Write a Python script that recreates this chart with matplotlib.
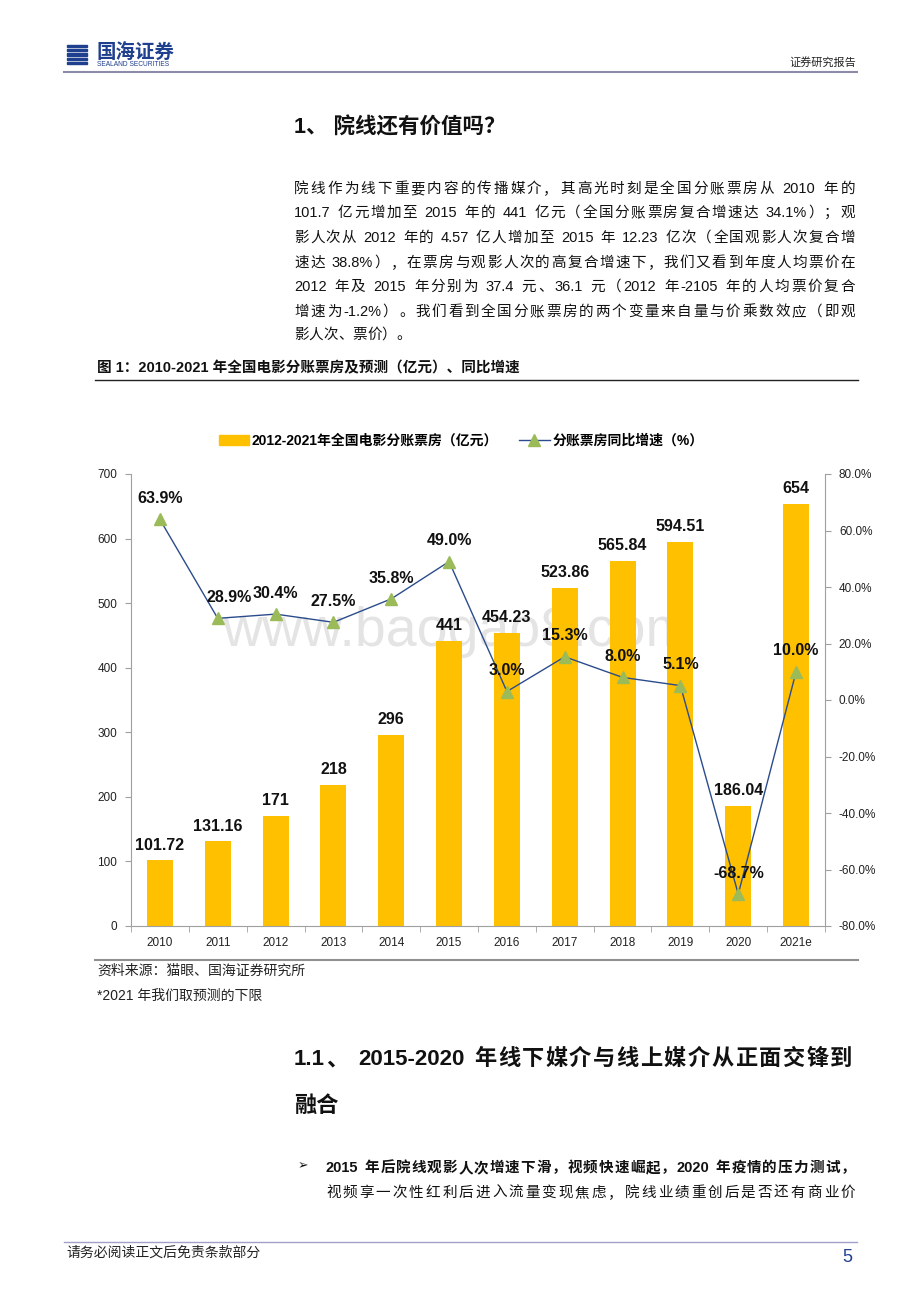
import re
import matplotlib
matplotlib.use('Agg')
import matplotlib.pyplot as plt
from matplotlib.lines import Line2D
from matplotlib.patches import Patch, Rectangle
import numpy as np

FAM = ['Liberation Sans', 'Noto Sans CJK SC']
plt.rcParams['font.family'] = FAM

# chart data
years = ['2010', '2011', '2012', '2013', '2014', '2015', '2016', '2017',
         '2018', '2019', '2020', '2021e']
box_office = [101.72, 131.16, 171, 218, 296, 441, 454.23, 523.86, 565.84,
              594.51, 186.04, 654]
box_labels = ['101.72', '131.16', '171', '218', '296', '441', '454.23',
              '523.86', '565.84', '594.51', '186.04', '654']
growth = [63.9, 28.9, 30.4, 27.5, 35.8, 49.0, 3.0, 15.3, 8.0, 5.1, -68.7, 10.0]
left_ticks = [0, 100, 200, 300, 400, 500, 600, 700]
right_ticks = [-80, -60, -40, -20, 0, 20, 40, 60, 80]

# page text
para = [
    '院线作为线下重要内容的传播媒介，其高光时刻是全国分账票房从 2010 年的',
    '101.7 亿元增加至 2015 年的 441 亿元（全国分账票房复合增速达 34.1%）；观',
    '影人次从 2012 年的 4.57 亿人增加至 2015 年 12.23 亿次（全国观影人次复合增',
    '速达 38.8%），在票房与观影人次的高复合增速下，我们又看到年度人均票价在',
    '2012 年及 2015 年分别为 37.4 元、36.1 元（2012 年-2105 年的人均票价复合',
    '增速为-1.2%）。我们看到全国分账票房的两个变量来自量与价乘数效应（即观',
    '影人次、票价）。',
]
bullet = [
    '2015 年后院线观影人次增速下滑，视频快速崛起，2020 年疫情的压力测试，',
    '视频享一次性红利后进入流量变现焦虑，院线业绩重创后是否还有商业价',
]

W, H = 920, 1302
fig = plt.figure(figsize=(W / 100, H / 100), dpi=100)
renderer = fig.canvas.get_renderer()


def fx(x):
    return x / W


def fy(y):
    return 1 - y / H


def hline(y, x0, x1, color, lw):
    fig.add_artist(Line2D([fx(x0), fx(x1)], [fy(y), fy(y)], color=color, lw=lw,
                          transform=fig.transFigure))


def put_line(s, x0, x1, y, size, weight='normal', justify=True, color='#111111'):
    # place a line token by token so it can be stretched to the full width
    toks = re.findall(r'[A-Za-z0-9.\-%*]+| |.', s)
    widths = []
    for t in toks:
        if t == ' ':
            widths.append(size * 100 / 72 * 0.3)
        else:
            tx = fig.text(0, 0, t, fontsize=size, weight=weight)
            widths.append(tx.get_window_extent(renderer).width)
            tx.remove()
    gap = 0
    if justify and len(toks) > 1:
        gap = (x1 - x0 - sum(widths)) / (len(toks) - 1)
    x = x0
    for t, w in zip(toks, widths):
        if t != ' ':
            fig.text(fx(x), fy(y), t, fontsize=size, weight=weight, color=color,
                     ha='left', va='baseline')
        x += w + gap


# header
for i in range(5):
    fig.add_artist(Rectangle((fx(67), fy(47 + i * 4.3)), fx(20), 2.2 / H,
                             color='#1F3F8F', transform=fig.transFigure))
fig.text(fx(97), fy(53), '国海证券', fontsize=14, weight='bold', color='#1F3F8F',
         va='center')
fig.text(fx(97), fy(65), 'SEALAND SECURITIES', fontsize=4.8, color='#1F3F8F',
         va='center')
fig.text(fx(856), fy(62), '证券研究报告', fontsize=8, color='#222222',
         ha='right', va='center')
hline(72, 64, 857, '#8C8CAA', 1.5)

# section 1
fig.text(fx(294), fy(128), '1、 院线还有价值吗？', fontsize=15.5, weight='bold',
         color='#111111', va='center')
line_y = [187, 211, 236, 261, 285, 310, 333]
for i, s in enumerate(para):
    put_line(s, 294, 855, line_y[i] + 6, 10.5, justify=(i < len(para) - 1))

# figure title
fig.text(fx(97), fy(368), '图 1：2010-2021 年全国电影分账票房及预测（亿元）、同比增速',
         fontsize=10.5, weight='bold', color='#111111', va='center')
hline(380, 95, 858, '#222222', 1.0)

# chart
ax = fig.add_axes([fx(131), fy(926), (825 - 131) / W, (926 - 474) / H])
x = np.arange(len(years))
ax.bar(x, box_office, width=0.45, color='#FFC000', zorder=2)
ax.set_xlim(-0.5, len(years) - 0.5)
ax.set_ylim(0, 700)
ax.set_yticks(left_ticks)
ax.set_xticks(x)
ax.set_xticklabels(years)
ax.set_xticks(np.arange(-0.5, len(years), 1), minor=True)
ax.tick_params(axis='x', which='major', length=0, pad=8, labelsize=8.5,
               labelcolor='#222222')
ax.tick_params(axis='x', which='minor', length=4, color='#A0A0A0', direction='out')
ax.tick_params(axis='y', length=4, color='#A0A0A0', labelsize=8.5,
               labelcolor='#222222', pad=6)
for sp in ['top', 'right']:
    ax.spines[sp].set_visible(False)
for sp in ['left', 'bottom']:
    ax.spines[sp].set_color('#A0A0A0')
ax.text(0.47, 0.65, 'www.baogao8.com', transform=ax.transAxes, fontsize=40,
        color='#e4e4e4', ha='center', va='center', zorder=0)
for xi, v, lab in zip(x, box_office, box_labels):
    ax.annotate(lab, (xi, v), xytext=(0, 11), textcoords='offset points',
                ha='center', va='center', fontsize=11.5, weight='bold',
                color='#111111', zorder=5)

ax2 = ax.twinx()
ax2.plot(x, growth, color='#2B4C8C', lw=1.0, marker='^', ms=9,
         mfc='#9BBB59', mec='#9BBB59', zorder=3)
ax2.set_ylim(-80, 80)
ax2.set_yticks(right_ticks)
ax2.set_yticklabels(['%.1f%%' % v for v in right_ticks])
ax2.tick_params(axis='y', length=4, color='#A0A0A0', labelsize=8.5,
                labelcolor='#222222', pad=6)
for sp in ['top', 'left', 'bottom']:
    ax2.spines[sp].set_visible(False)
ax2.spines['right'].set_color('#A0A0A0')
for i, (xi, v) in enumerate(zip(x, growth)):
    dx = 8 if i == 1 else 0
    ax2.annotate('%.1f%%' % v, (xi, v), xytext=(dx, 15), textcoords='offset points',
                 ha='center', va='center', fontsize=11.5, weight='bold',
                 color='#111111', zorder=6)

handles = [Patch(color='#FFC000'),
           Line2D([], [], color='#2B4C8C', lw=1.0, marker='^', ms=8,
                  mfc='#9BBB59', mec='#9BBB59')]
fig.legend(handles, ['2012-2021年全国电影分账票房（亿元）', '分账票房同比增速（%）'],
           loc='center', bbox_to_anchor=(fx(461), fy(441)), ncol=2, frameon=False,
           prop={'family': FAM, 'weight': 'bold', 'size': 10},
           handlelength=2.2, handleheight=0.8, handletextpad=0.2, columnspacing=1.5)

hline(960, 95, 858, '#909090', 1.5)
fig.text(fx(97), fy(971), '资料来源：猫眼、国海证券研究所', fontsize=10,
         color='#222222', va='center')
fig.text(fx(97), fy(996), '*2021 年我们取预测的下限', fontsize=10,
         color='#222222', va='center')

# section 1.1
put_line('1.1、 2015-2020 年线下媒介与线上媒介从正面交锋到', 294, 852, 1065, 16,
         weight='bold')
fig.text(fx(294), fy(1106), '融合', fontsize=16, weight='bold', color='#111111',
         va='center')
fig.text(fx(298), fy(1166), '➢', fontsize=9, family=['DejaVu Sans'],
         color='#111111', va='center')
put_line(bullet[0], 326, 855, 1172, 10.5, weight='bold')
put_line(bullet[1], 326, 855, 1197, 10.5)

# footer
hline(1242, 64, 857, '#A0A0C8', 1.0)
fig.text(fx(66), fy(1253), '请务必阅读正文后免责条款部分', fontsize=10,
         color='#222222', va='center')
fig.text(fx(852), fy(1258), '5', fontsize=13, color='#1F3F8F', ha='right',
         va='center')

fig.savefig('out.png', dpi=100)
